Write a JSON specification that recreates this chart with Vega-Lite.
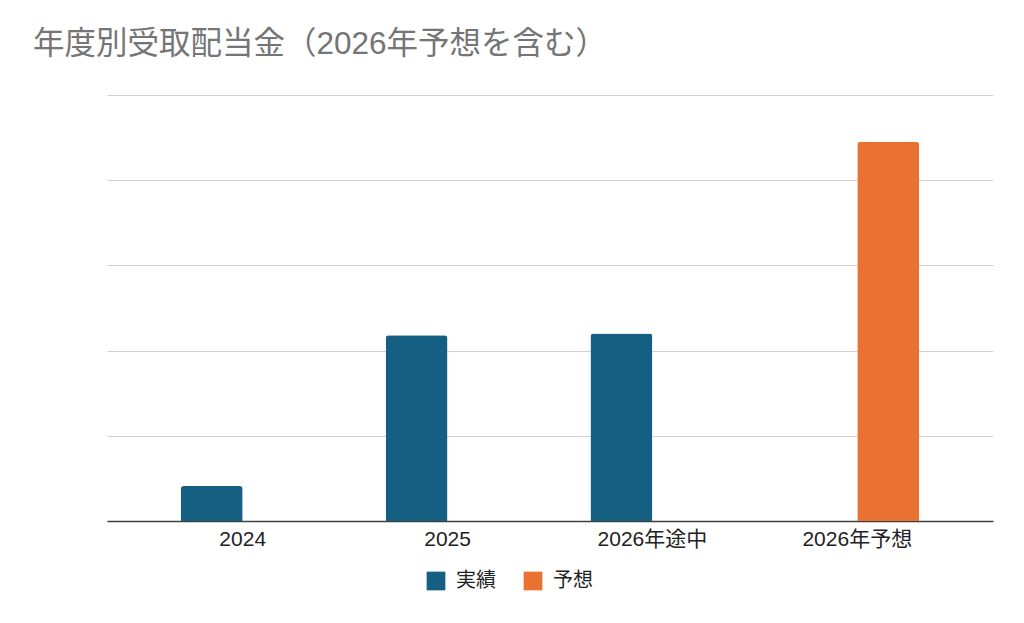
{
  "$schema": "https://vega.github.io/schema/vega-lite/v6.json",
  "autosize": {"type": "none"},
  "width": 886,
  "height": 426,
  "padding": {"left": 107, "top": 95, "right": 31, "bottom": 102},
  "background": "white",
  "title": {
    "text": "年度別受取配当金（2026年予想を含む）",
    "anchor": "start",
    "frame": "group",
    "dx": -74,
    "offset": 35,
    "fontSize": 31.5,
    "fontWeight": "normal",
    "color": "#757575",
    "font": "Liberation Sans, Noto Sans CJK JP"
  },
  "data": {
    "values": [
      {"period": "2024", "series": "実績", "amount": 0.41},
      {"period": "2025", "series": "実績", "amount": 2.18},
      {"period": "2026年途中", "series": "実績", "amount": 2.2},
      {"period": "2026年予想", "series": "予想", "amount": 4.45}
    ]
  },
  "mark": {"type": "bar", "cornerRadiusTopLeft": 3, "cornerRadiusTopRight": 3},
  "encoding": {
    "x": {
      "field": "period",
      "type": "nominal",
      "sort": ["2024", "2025", "2026年途中", "2026年予想"],
      "scale": {"paddingInner": 0.395, "paddingOuter": 0.36},
      "axis": {
        "title": null,
        "labelAngle": 0,
        "ticks": false,
        "domainColor": "#404040",
        "domainWidth": 1.5,
        "labelFontSize": 21,
        "labelColor": "#222222",
        "labelPadding": 7,
        "labelFont": "Liberation Sans, Noto Sans CJK JP"
      }
    },
    "xOffset": {
      "field": "series",
      "type": "nominal",
      "sort": ["実績", "予想"],
      "scale": {"paddingInner": 0, "paddingOuter": 0}
    },
    "y": {
      "field": "amount",
      "type": "quantitative",
      "scale": {"domain": [0, 5], "nice": false},
      "axis": {
        "title": null,
        "labels": false,
        "ticks": false,
        "domain": false,
        "tickCount": 5,
        "gridColor": "#d0d0d0",
        "gridWidth": 1
      }
    },
    "color": {
      "field": "series",
      "type": "nominal",
      "sort": ["実績", "予想"],
      "scale": {"domain": ["実績", "予想"], "range": ["#156082", "#E97132"]},
      "legend": {
        "title": null,
        "orient": "none",
        "direction": "horizontal",
        "legendX": 319,
        "legendY": 476,
        "symbolType": "square",
        "symbolSize": 350,
        "symbolStrokeWidth": 0,
        "symbolOpacity": 1,
        "labelFontSize": 20,
        "labelColor": "#222222",
        "labelOffset": 10,
        "columnPadding": 27,
        "labelFont": "Liberation Sans, Noto Sans CJK JP"
      }
    }
  },
  "config": {
    "view": {"stroke": null},
    "axis": {"gridDash": []}
  }
}
